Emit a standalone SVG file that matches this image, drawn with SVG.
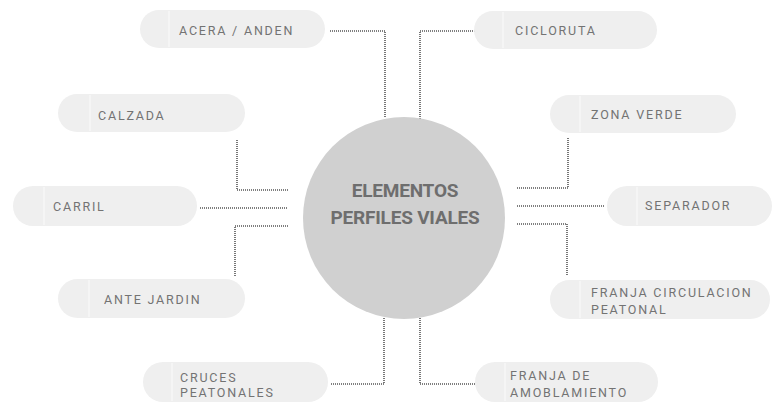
<svg xmlns="http://www.w3.org/2000/svg" width="779" height="402" viewBox="0 0 779 402">
<style>
.pill{fill:#efefef}
.div{stroke:#f8f8f8;stroke-width:1.2}
.lbl{font-family:Roboto,"Liberation Sans",sans-serif;font-size:12.5px;letter-spacing:1.8px;fill:#737373;dominant-baseline:central}
.con{fill:none;stroke:#555555;stroke-width:1.6;stroke-dasharray:1 1}
.ctr{font-family:Roboto,"Liberation Sans",sans-serif;font-size:19px;font-weight:bold;letter-spacing:-0.2px;fill:#6e6e6e;text-anchor:middle;dominant-baseline:central}
</style>
<rect width="779" height="402" fill="#ffffff"/>
<g id="connectors">
<path class="con" d="M330 31 H385 V118"/>
<path class="con" d="M475 31 H420 V120"/>
<path class="con" d="M237 140 V190 H288"/>
<path class="con" d="M200 208 H288"/>
<path class="con" d="M288 226 H235 V277"/>
<path class="con" d="M568 138 V188 H517"/>
<path class="con" d="M517 206 H605"/>
<path class="con" d="M517 224 H567 V275"/>
<path class="con" d="M384 318 V384 H330"/>
<path class="con" d="M420 318 V384 H475"/>
</g>
<g id="center">
<circle cx="404" cy="218" r="101" fill="#d0d0d0"/>
<text class="ctr" x="405" y="190">ELEMENTOS</text>
<text class="ctr" x="405" y="217">PERFILES VIALES</text>
</g>
<g id="acera">
<rect class="pill" x="140" y="10" width="185" height="38" rx="19"/>
<line class="div" x1="169" y1="11" x2="169" y2="47"/>
<text class="lbl" x="179" y="30">ACERA / ANDEN</text>
</g>
<g id="cicloruta">
<rect class="pill" x="474" y="11" width="183" height="38" rx="19"/>
<line class="div" x1="503" y1="12" x2="503" y2="48"/>
<text class="lbl" x="515" y="30">CICLORUTA</text>
</g>
<g id="calzada">
<rect class="pill" x="58" y="94" width="187" height="38" rx="19"/>
<line class="div" x1="90" y1="95" x2="90" y2="131"/>
<text class="lbl" x="98" y="115">CALZADA</text>
</g>
<g id="carril">
<rect class="pill" x="13" y="186" width="184" height="40" rx="20"/>
<line class="div" x1="44" y1="187" x2="44" y2="225"/>
<text class="lbl" x="53" y="206">CARRIL</text>
</g>
<g id="antejardin">
<rect class="pill" x="58" y="279" width="187" height="39" rx="19.5"/>
<line class="div" x1="89" y1="280" x2="89" y2="317"/>
<text class="lbl" x="104" y="299">ANTE JARDIN</text>
</g>
<g id="zonaverde">
<rect class="pill" x="550" y="95" width="186" height="38" rx="19"/>
<line class="div" x1="580" y1="96" x2="580" y2="132"/>
<text class="lbl" x="591" y="114">ZONA VERDE</text>
</g>
<g id="separador">
<rect class="pill" x="607" y="186" width="165" height="40" rx="20"/>
<line class="div" x1="637" y1="187" x2="637" y2="225"/>
<text class="lbl" x="645" y="205">SEPARADOR</text>
</g>
<g id="franjacirculacion">
<rect class="pill" x="550" y="280" width="220" height="39" rx="19.5"/>
<line class="div" x1="580" y1="281" x2="580" y2="318"/>
<text class="lbl" x="591" y="292">FRANJA CIRCULACION</text>
<text class="lbl" x="591" y="309">PEATONAL</text>
</g>
<g id="cruces">
<rect class="pill" x="143" y="362" width="185" height="40" rx="20"/>
<line class="div" x1="172" y1="363" x2="172" y2="401"/>
<text class="lbl" x="180" y="377">CRUCES</text>
<text class="lbl" x="180" y="392">PEATONALES</text>
</g>
<g id="franjaamoblamiento">
<rect class="pill" x="475" y="362" width="183" height="40" rx="20"/>
<line class="div" x1="505" y1="363" x2="505" y2="401"/>
<text class="lbl" x="510" y="375">FRANJA DE</text>
<text class="lbl" x="510" y="392">AMOBLAMIENTO</text>
</g>
</svg>
